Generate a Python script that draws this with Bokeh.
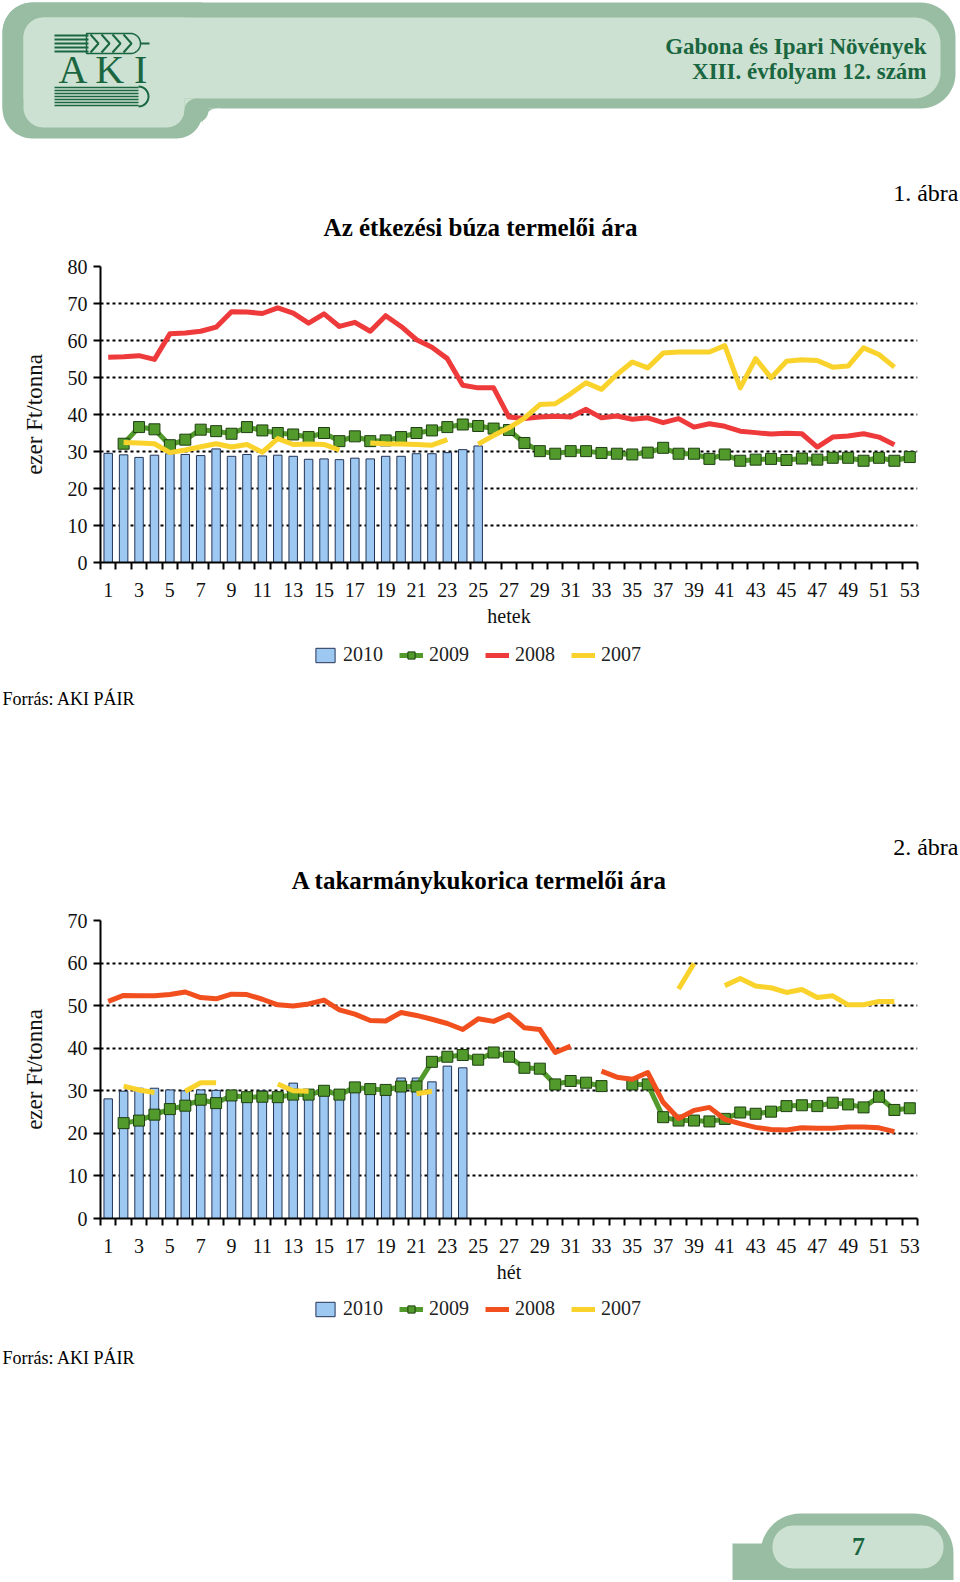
import numpy as np
from bokeh.plotting import figure
from bokeh.models import Range1d, FixedTicker, Legend, LegendItem
from bokeh.layouts import column
from bokeh.embed import file_html
from bokeh.resources import INLINE
from bokeh.core.properties import value

nan = float("nan")

# ---------------- data ----------------
weeks = list(range(1, 54))
odd_week_ticks = list(range(1, 54, 2))
week_edges = [w + 0.5 for w in range(0, 54)]
series_labels = ["2010", "2009", "2008", "2007"]

wheat_2010 = [29.5, 29.1, 28.4, 29.0, 29.4, 29.2, 28.9, 30.7, 28.7, 29.2,
              28.8, 29.0, 28.7, 27.9, 28.0, 27.8, 28.2, 28.0, 28.7, 28.7,
              29.4, 29.4, 29.7, 30.5, 31.5] + [nan] * 28
wheat_2009 = [nan, 32.1, 36.6, 36.0, 31.7, 33.2, 35.9, 35.5, 34.8, 36.6,
              35.7, 35.0, 34.6, 33.9, 35.0, 32.8, 34.1, 32.8, 33.0, 33.9,
              35.0, 35.7, 36.6, 37.3, 36.9, 36.2, 35.8, 32.3, 30.1, 29.4,
              30.1, 30.1, 29.6, 29.4, 29.2, 29.7, 31.0, 29.4, 29.4, 28.0,
              29.2, 27.5, 27.8, 28.0, 27.7, 28.1, 27.8, 28.3, 28.3, 27.5,
              28.3, 27.5, 28.5]
wheat_2008 = [55.5, 55.6, 55.9, 54.9, 61.8, 62.0, 62.5, 63.6, 67.8, 67.7,
              67.3, 68.8, 67.4, 64.7, 67.2, 63.8, 64.9, 62.5, 66.7, 63.8,
              60.2, 58.2, 55.1, 47.9, 47.2, 47.2, 39.3, 38.9, 39.3, 39.5,
              39.3, 41.4, 39.1, 39.6, 38.7, 39.1, 37.8, 38.9, 36.6, 37.5,
              36.8, 35.5, 35.1, 34.7, 34.9, 34.8, 31.2, 33.9, 34.2, 34.8,
              33.9, 31.8, nan]
wheat_2007 = [nan, 32.4, 32.3, 32.1, 29.7, 30.4, 31.3, 32.1, 31.2, 31.9,
              29.8, 33.5, 31.9, 32.0, 31.9, 30.4, nan, 32.3, 32.1, 32.0,
              31.9, 31.7, 33.2, nan, 32.0, 34.3, 36.4, 39.0, 42.7, 42.9,
              45.6, 48.6, 46.8, 50.8, 54.2, 52.6, 56.6, 56.9, 56.9, 56.9,
              58.6, 47.2, 55.1, 49.9, 54.4, 54.8, 54.6, 52.8, 53.1, 58.0,
              56.2, 52.8, nan]

maize_2010 = [28.1, 29.9, 30.6, 30.6, 30.2, 30.0, 30.2, 30.1, 29.7, 29.6,
              30.0, 29.7, 31.8, 30.2, 30.4, 29.9, 30.6, 30.0, 30.4, 33.0,
              33.0, 32.1, 35.8, 35.4] + [nan] * 29
maize_2009 = [nan, 22.4, 23.0, 24.4, 25.7, 26.5, 27.9, 27.1, 28.9, 28.5,
              28.6, 28.5, 29.1, 29.1, 30.0, 29.1, 30.8, 30.4, 30.2, 31.0,
              31.0, 36.8, 38.0, 38.4, 37.3, 39.0, 38.0, 35.4, 35.2, 31.5,
              32.3, 31.9, 31.1, nan, 31.5, 31.5, 23.8, 23.0, 23.0, 22.8,
              23.4, 24.9, 24.6, 25.1, 26.4, 26.6, 26.4, 27.2, 26.8, 26.1,
              28.6, 25.5, 25.9]
maize_2008 = [51.0, 52.4, 52.3, 52.3, 52.6, 53.2, 51.9, 51.6, 52.7, 52.6,
              51.5, 50.2, 49.9, 50.4, 51.3, 49.0, 48.0, 46.5, 46.4, 48.4,
              47.7, 46.8, 45.8, 44.4, 46.9, 46.3, 47.9, 44.8, 44.4, 39.0,
              40.5, nan, 34.6, 33.2, 32.7, 34.3, 27.3, 23.5, 25.4, 26.1,
              23.3, 22.3, 21.4, 20.9, 20.8, 21.3, 21.2, 21.2, 21.5, 21.5,
              21.3, 20.4, nan]
maize_2007 = [nan, 31.1, 30.2, 29.6, nan, 29.9, 31.9, 31.9, nan, nan,
              nan, 31.6, 30.0, 29.9, nan, nan, nan, nan, nan, nan,
              29.3, 29.9, nan, nan, nan, nan, nan, nan, nan, nan,
              nan, nan, nan, nan, nan, nan, nan, 53.9, 59.9, nan,
              54.7, 56.4, 54.6, 54.2, 53.1, 53.8, 51.9, 52.3, 50.2, 50.2,
              51.0, 51.0, nan]

# ---------------- styles ----------------
SERIF = "Liberation Serif"
C_BAR = "#9DC8F2"
C_BAR_LINE = "#243456"
C_GREEN = "#519A2B"
C_GREEN_DARK = "#1F3F12"
C_RED1 = "#EE3A3A"
C_RED2 = "#F24F1F"
C_YEL = "#F9D32C"
C_OUT = "#98BDA3"
C_IN = "#CCE1D1"
C_TXT_GREEN = "#1A6640"

W = 960


def decor(top, bottom):
    p = figure(width=W, height=bottom - top, x_range=Range1d(0, W),
               y_range=Range1d(bottom, top), x_axis_type=None, y_axis_type=None,
               output_backend="svg", toolbar_location=None, min_border=0)
    p.frame_align = False
    p.outline_line_color = None
    p.background_fill_color = "white"
    p.border_fill_color = "white"
    return p


def rrect(x0, y0, x1, y1, tl, tr, br, bl):
    xs, ys = [], []

    def arc(cx, cy, r, a0, a1):
        if r <= 0:
            xs.append(cx)
            ys.append(cy)
            return
        for t in np.linspace(np.radians(a0), np.radians(a1), 14):
            xs.append(cx + r * np.cos(t))
            ys.append(cy + r * np.sin(t))

    arc(x0 + tl, y0 + tl, tl, 180, 270)
    arc(x1 - tr, y0 + tr, tr, 270, 360)
    arc(x1 - br, y1 - br, br, 0, 90)
    arc(x0 + bl, y1 - bl, bl, 90, 180)
    return xs, ys


def txt(p, x, y, s, size, align="left", bold=False, color="black", font=SERIF):
    p.text(x=[x], y=[y], text=[s], text_font=value(font), text_font_size=size,
           text_align=align, text_baseline="middle", text_color=color,
           text_font_style="bold" if bold else "normal")


def chart(top, bottom, ftop, fbottom, ymax, bars, s09, s08, s07, red, xlabel):
    p = figure(width=W, height=bottom - top, x_range=Range1d(0.5, 53.5),
               y_range=Range1d(0, ymax), output_backend="svg", toolbar_location=None,
               min_border_left=100, min_border_right=W - 917,
               min_border_top=ftop - top, min_border_bottom=bottom - fbottom)
    p.frame_align = False
    p.outline_line_color = None
    p.xgrid.visible = False
    p.ygrid.grid_line_color = "black"
    p.ygrid.grid_line_dash = "3 3"
    p.ygrid.grid_line_width = 2

    p.yaxis.ticker = FixedTicker(ticks=list(range(0, ymax + 1, 10)))
    p.yaxis.major_tick_out = 7
    p.yaxis.major_tick_in = 0
    p.yaxis.minor_tick_out = 0
    p.yaxis.minor_tick_in = 0
    p.yaxis.major_tick_line_width = 2
    p.yaxis.axis_line_width = 2
    p.yaxis.major_label_standoff = 6
    p.yaxis.axis_label = "ezer Ft/tonna"
    p.yaxis.axis_label_standoff = 18

    p.xaxis.ticker = FixedTicker(ticks=odd_week_ticks, minor_ticks=week_edges)
    p.xaxis.major_tick_out = 0
    p.xaxis.major_tick_in = 0
    p.xaxis.minor_tick_out = 7
    p.xaxis.minor_tick_in = 0
    p.xaxis.minor_tick_line_width = 2
    p.xaxis.minor_tick_line_color = "black"
    p.xaxis.axis_line_width = 2
    p.xaxis.major_label_standoff = 13
    p.xaxis.axis_label = xlabel
    p.xaxis.axis_label_standoff = 5

    for ax in (p.xaxis, p.yaxis):
        ax.axis_line_color = "black"
        ax.major_label_text_font = SERIF
        ax.major_label_text_font_size = "20px"
        ax.major_label_text_color = "#111111"
        ax.axis_label_text_font = SERIF
        ax.axis_label_text_font_size = "20px"
        ax.axis_label_text_font_style = "normal"
        ax.axis_label_text_color = "#111111"
    p.yaxis.axis_label_text_font_size = "23px"

    p.vbar(x=weeks, top=np.array(bars, dtype=float), width=0.55,
           fill_color=C_BAR, line_color=C_BAR_LINE, line_width=1)
    p.line(weeks, np.array(s09, dtype=float), line_width=5, color=C_GREEN,
           line_join="round")
    p.scatter(weeks, np.array(s09, dtype=float), marker="square", size=11,
              fill_color=C_GREEN, line_color=C_GREEN_DARK, line_width=1)
    p.line(weeks, np.array(s08, dtype=float), line_width=5, color=red,
           line_join="round")
    p.line(weeks, np.array(s07, dtype=float), line_width=5, color=C_YEL,
           line_join="round")
    return p


def add_legend(p, red, loc, ymid):
    # legend proxies styled like the chart series; hidden, only their swatches show
    px = [20, 30]
    py = [ymid, ymid]
    rb = p.vbar(x=px[:1], top=[ymid - 5], bottom=[ymid + 5], width=4,
                fill_color=C_BAR, line_color=C_BAR_LINE, line_width=1)
    rg = p.line(x=px, y=py, line_width=5, color=C_GREEN)
    rs = p.scatter(x=px[:1], y=py[:1], marker="square", size=11,
                   fill_color=C_GREEN, line_color=C_GREEN_DARK, line_width=1)
    rr = p.line(x=px, y=py, line_width=5, color=red)
    ry = p.line(x=px, y=py, line_width=5, color=C_YEL)
    for r in (rb, rg, rs, rr, ry):
        r.visible = False
    legend = Legend(items=[
        LegendItem(label=series_labels[0], renderers=[rb]),
        LegendItem(label=series_labels[1], renderers=[rg, rs]),
        LegendItem(label=series_labels[2], renderers=[rr]),
        LegendItem(label=series_labels[3], renderers=[ry]),
    ], orientation="horizontal", location=loc)
    legend.glyph_width = 24
    legend.glyph_height = 18
    legend.label_height = 20
    legend.label_standoff = 6
    legend.spacing = 16
    legend.padding = 0
    legend.margin = 0
    legend.border_line_color = None
    legend.background_fill_alpha = 0
    legend.inactive_fill_alpha = 0
    legend.label_text_font = SERIF
    legend.label_text_font_size = "20px"
    legend.label_text_color = "#222222"
    p.add_layout(legend)


# ---------------- header ----------------
ph = decor(0, 252)
xs, ys = rrect(2, 2, 955, 108, 30, 35, 35, 0)
ph.patch(xs, ys, fill_color=C_OUT, line_color=None)
xs, ys = rrect(2, 2, 202, 138, 30, 0, 26, 30)
ph.patch(xs, ys, fill_color=C_OUT, line_color=None)
ph.rect(x=[209.5], y=[115.5], width=15, height=15, fill_color=C_OUT, line_color=None)
ph.circle(x=[217], y=[123], radius=15, fill_color="white", line_color=None)
xs, ys = rrect(23, 17, 940, 98, 20, 26, 26, 0)
ph.patch(xs, ys, fill_color=C_IN, line_color=None)
xs, ys = rrect(23, 17, 184, 127, 20, 0, 18, 20)
ph.patch(xs, ys, fill_color=C_IN, line_color=None)
ph.rect(x=[190], y=[104], width=12, height=12, fill_color=C_IN, line_color=None)
ph.circle(x=[196], y=[110], radius=12, fill_color=C_OUT, line_color=None)

# logo: wheat ear
ph.multi_line(xs=[[54, 88]] * 5, ys=[[y, y] for y in (35, 39, 43, 47, 51)],
              line_color=C_TXT_GREEN, line_width=2)
ph.multi_line(xs=[[cx - 4, cx + 4, cx - 4] for cx in (94, 105, 116, 127)],
              ys=[[34, 43, 52]] * 4, line_color=C_TXT_GREEN, line_width=2)
xs, ys = rrect(86, 33, 140, 53, 0, 10, 10, 0)
ph.patch(xs, ys, fill_color=None, line_color=C_TXT_GREEN, line_width=1.5)
ph.line([140, 149], [43, 43], line_color=C_TXT_GREEN, line_width=2)
# logo: letters
txt(ph, 58, 69, "A K I", "40px", color=C_TXT_GREEN)
# logo: book
ph.multi_line(xs=[[54, 138]] * 7, ys=[[y, y] for y in (87, 90, 93, 96, 99, 102, 105)],
              line_color=C_TXT_GREEN, line_width=1.6)
th = np.linspace(-np.pi / 2, np.pi / 2, 20)
ph.line(list(138 + 10 * np.cos(th)), list(96 + 10 * np.sin(th)), line_color=C_TXT_GREEN,
        line_width=2)
# header texts
txt(ph, 926, 46, "Gabona és Ipari Növények", "23px", align="right", bold=True,
    color=C_TXT_GREEN)
txt(ph, 926, 71, "XIII. évfolyam 12. szám", "23px", align="right", bold=True,
    color=C_TXT_GREEN)
txt(ph, 958, 192, "1. ábra", "24px", align="right")
txt(ph, 480, 227, "Az étkezési búza termelői ára", "25px", align="center", bold=True)

# ---------------- chart 1 ----------------
p1 = chart(252, 640, 266, 562, 80, wheat_2010, wheat_2009, wheat_2008, wheat_2007,
           C_RED1, "hetek")

# ---------------- legend 1 + middle texts ----------------
pm = decor(640, 906)
add_legend(pm, C_RED1, (313, 906 - 666), 656)
txt(pm, 2, 698, "Forrás: AKI PÁIR", "18px")
txt(pm, 958, 846, "2. ábra", "24px", align="right")
txt(pm, 479, 880, "A takarmánykukorica termelői ára", "25px", align="center", bold=True)

# ---------------- chart 2 ----------------
p2 = chart(906, 1296, 920, 1218, 70, maize_2010, maize_2009, maize_2008, maize_2007,
           C_RED2, "hét")

# ---------------- legend 2 + footer ----------------
pf = decor(1296, 1580)
add_legend(pf, C_RED2, (313, 1580 - 1320), 1310)
txt(pf, 2, 1357, "Forrás: AKI PÁIR", "18px")
pf.rect(x=[752], y=[1575], width=40, height=64, fill_color=C_OUT, line_color=None)
xs, ys = rrect(760, 1513, 953, 1620, 40, 40, 0, 0)
pf.patch(xs, ys, fill_color=C_OUT, line_color=None)
xs, ys = rrect(772, 1525, 943, 1568, 21, 21, 21, 21)
pf.patch(xs, ys, fill_color=C_IN, line_color=None)
txt(pf, 858, 1546, "7", "26px", align="center", bold=True, color=C_TXT_GREEN)

layout = column(ph, p1, pm, p2, pf, spacing=0)
open("out.html", "w").write(file_html(layout, INLINE))
